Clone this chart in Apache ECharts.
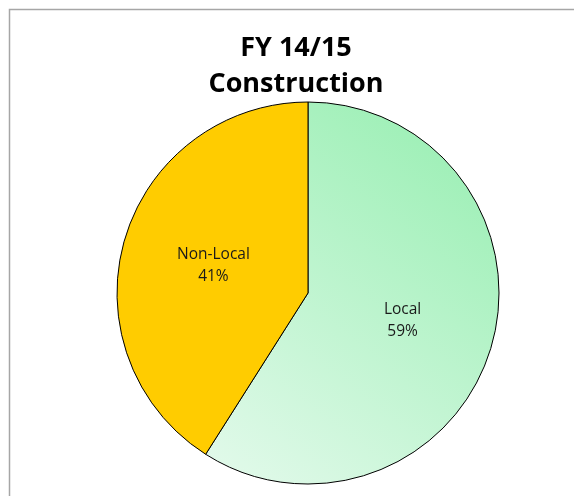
<!DOCTYPE html>
<html>
<head>
<meta charset="utf-8">
<script src="https://cdn.jsdelivr.net/npm/echarts@6/dist/echarts.min.js"></script>
<style>
  html, body { margin: 0; padding: 0; background: #fff; }
  #chart { width: 574px; height: 496px; }
</style>
</head>
<body>
<div id="chart"></div>
<script>
const categories = ["Local", "Non-Local"];
const shares = [59, 41];
const titleLines = ["FY 14/15", "Construction"];

const chart = echarts.init(document.getElementById("chart"));

const sliceColors = [
  {
    type: "linear",
    x: 1, y: 0, x2: 0, y2: 1,
    colorStops: [
      { offset: 0, color: "#94EEAF" },
      { offset: 1, color: "#E4FAEC" },
    ],
  },
  "#FFCC00",
];

chart.setOption({
  animation: false,
  graphic: [
    {
      type: "rect",
      shape: { x: 9.5, y: 9.5, width: 700, height: 700 },
      style: { fill: "none", stroke: "#a6a6a6", lineWidth: 1.5 },
      silent: true,
    },
    {
      type: "text",
      x: 296,
      y: 66,
      silent: true,
      style: {
        text: titleLines.join("\n"),
        align: "center",
        verticalAlign: "middle",
        font: "bold 27px 'Open Sans'",
        lineHeight: 36,
        fill: "#000",
      },
    },
  ],
  series: [
    {
      type: "pie",
      center: [308, 293],
      radius: 191,
      startAngle: 90,
      clockwise: true,
      label: {
        show: true,
        position: "inside",
        formatter: "{b}\n{d}%",
        fontFamily: "Open Sans",
        fontSize: 15.5,
        lineHeight: 22,
        color: "#1a1a1a",
      },
      labelLine: { show: false },
      itemStyle: { borderColor: "#000", borderWidth: 1 },
      emphasis: { disabled: true },
      data: categories.map((name, i) => ({
        name,
        value: shares[i],
        itemStyle: { color: sliceColors[i] },
      })),
    },
  ],
});
</script>
</body>
</html>
